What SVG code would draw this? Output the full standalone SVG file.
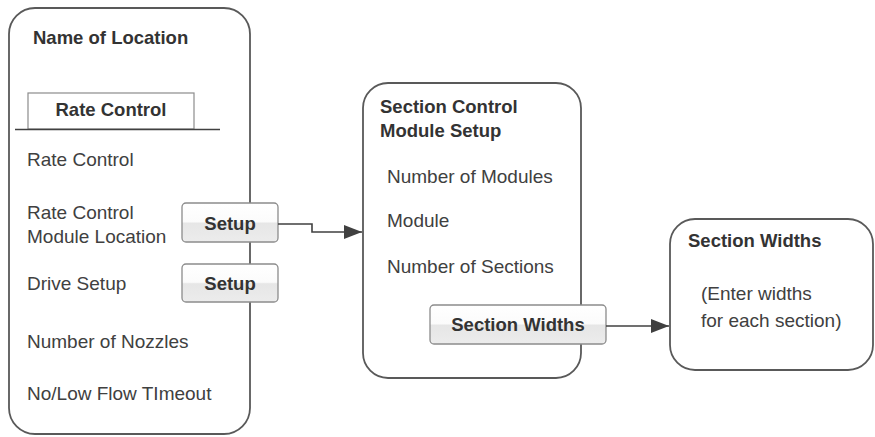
<svg xmlns="http://www.w3.org/2000/svg" width="875" height="437" viewBox="0 0 875 437">
<defs>
<linearGradient id="btn" x1="0" y1="0" x2="0" y2="1">
<stop offset="0" stop-color="#ffffff"/>
<stop offset="0.48" stop-color="#fbfbfb"/>
<stop offset="0.52" stop-color="#e6e6e6"/>
<stop offset="1" stop-color="#ececec"/>
</linearGradient>
<marker id="arr" markerWidth="18" markerHeight="14" refX="18" refY="7" orient="auto" markerUnits="userSpaceOnUse">
<path d="M0,0 L18,7 L0,14 Z" fill="#404040"/>
</marker>
</defs>
<style>
.box{fill:#fff;stroke:#595959;stroke-width:1.8}
.btn{fill:url(#btn);stroke:#8c8c8c;stroke-width:1.3}
.t{font-family:"Liberation Sans",Arial,sans-serif;font-size:19px;fill:#404040}
.b{font-family:"Liberation Sans",Arial,sans-serif;font-size:18.5px;font-weight:bold;fill:#333}
.c{fill:none;stroke:#404040;stroke-width:1.6}
</style>
<g id="location">
<rect class="box" x="9" y="8" width="241" height="426" rx="26"/>
<text class="b" x="33" y="44">Name of Location</text>
<rect x="28" y="93" width="166" height="36" fill="#fff" stroke="#8c8c8c" stroke-width="1.2"/>
<line x1="15" y1="129.5" x2="220" y2="129.5" stroke="#404040" stroke-width="1.5"/>
<text class="b" x="111" y="116" text-anchor="middle">Rate Control</text>
<text class="t" x="27" y="166">Rate Control</text>
<text class="t" x="27" y="219">Rate Control</text>
<text class="t" x="27" y="243">Module Location</text>
<text class="t" x="27" y="290">Drive Setup</text>
<text class="t" x="27" y="348">Number of Nozzles</text>
<text class="t" x="27" y="400">No/Low Flow TImeout</text>
</g>
<g id="setup1">
<rect class="btn" x="182" y="203" width="96" height="39" rx="4"/>
<text class="b" x="230" y="230" text-anchor="middle">Setup</text>
</g>
<g id="setup2">
<rect class="btn" x="182" y="264" width="96" height="38" rx="4"/>
<text class="b" x="230" y="290" text-anchor="middle">Setup</text>
</g>
<g id="section-control">
<rect class="box" x="363" y="83" width="218" height="295" rx="25"/>
<text class="b" x="380" y="113">Section Control</text>
<text class="b" x="380" y="137">Module Setup</text>
<text class="t" x="387" y="183">Number of Modules</text>
<text class="t" x="387" y="227">Module</text>
<text class="t" x="387" y="273">Number of Sections</text>
</g>
<g id="section-widths-btn">
<rect class="btn" x="430" y="305" width="176" height="39" rx="4"/>
<text class="b" x="518" y="331" text-anchor="middle">Section Widths</text>
</g>
<g id="section-widths">
<rect class="box" x="670" y="219" width="203" height="151" rx="25"/>
<text class="b" x="688" y="247">Section Widths</text>
<text class="t" x="701" y="300">(Enter widths</text>
<text class="t" x="701" y="327">for each section)</text>
</g>
<g id="connectors">
<path class="c" d="M278,224 H312 V232 H362" marker-end="url(#arr)"/>
<path class="c" d="M606,326 H669" marker-end="url(#arr)"/>
</g>
</svg>
